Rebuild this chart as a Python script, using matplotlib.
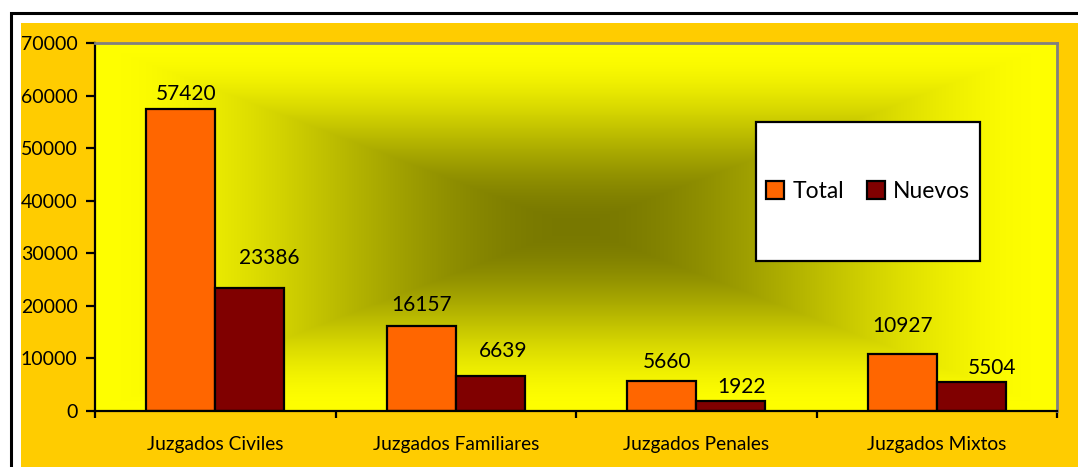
import numpy as np
import matplotlib
matplotlib.use("Agg")
import matplotlib.pyplot as plt
from matplotlib.patches import Rectangle, Patch

plt.rcParams['font.family'] = ['Lato', 'DejaVu Sans']

# Data
categories = ['Juzgados Civiles', 'Juzgados Familiares', 'Juzgados Penales', 'Juzgados Mixtos']
total = [57420, 16157, 5660, 10927]
nuevos = [23386, 6639, 1922, 5504]
series_names = ['Total', 'Nuevos']

# label offsets (points) from the top-centre of each bar, as placed in the original
total_label_dx = [4, 0, 4, 0]
total_label_dy = [11, 15, 14, 20]
nuevos_label_dx = [14, 9, 8, 15]
nuevos_label_dy = [22, 18, 10, 10]

W, H = 1078, 467
fig = plt.figure(figsize=(W / 100, H / 100), dpi=100)
fig.patch.set_facecolor('white')

# outer frame and orange chart area
fig.patches.append(Rectangle((10.5 / W, -0.1), 1.2, 1 - 12.5 / H + 0.1, transform=fig.transFigure,
                             facecolor='white', edgecolor='black', linewidth=2.2, zorder=0))
fig.patches.append(Rectangle((21 / W, -0.1), 1.2, 1 - 23 / H + 0.1, transform=fig.transFigure,
                             facecolor='#FFCC00', edgecolor='none', zorder=0.5))

ax = fig.add_axes([95 / W, (H - 411) / H, 962 / W, 368 / H])
ax.set_zorder(2)
ax.set_facecolor('#FFFF00')

# rectangular "from centre" gradient background
n = 400
u = np.linspace(-1, 1, n)
U, V = np.meshgrid(u, u)
t = np.clip(np.maximum(np.abs(U), np.abs(V)), 0, 1)
t = 3 * t ** 2 - 2 * t ** 3
dark = np.array([120, 120, 0]) / 255
light = np.array([255, 255, 0]) / 255
img = dark[None, None, :] * (1 - t[..., None]) + light[None, None, :] * t[..., None]
ax.imshow(img, extent=[0, 1, 0, 1], transform=ax.transAxes, aspect='auto', zorder=0)

x = np.arange(len(categories))
w = 0.287
b1 = ax.bar(x - w / 2, total, w, color='#FF6600', edgecolor='black', linewidth=1.6, zorder=2)
b2 = ax.bar(x + w / 2, nuevos, w, color='#800000', edgecolor='black', linewidth=1.6, zorder=2)

for i in range(len(categories)):
    ax.annotate(str(total[i]), (x[i] - w / 2, total[i]), xytext=(total_label_dx[i], total_label_dy[i]),
                textcoords='offset points', ha='center', va='center', fontsize=15, zorder=3)
    ax.annotate(str(nuevos[i]), (x[i] + w / 2, nuevos[i]), xytext=(nuevos_label_dx[i], nuevos_label_dy[i]),
                textcoords='offset points', ha='center', va='center', fontsize=15, zorder=3)

ax.set_xlim(-0.5, len(categories) - 0.5)
ax.set_ylim(0, 70000)
ax.set_yticks(np.arange(0, 70001, 10000))
ax.tick_params(axis='y', length=6.5, width=1.6, pad=6, labelsize=14, direction='out')

ax.set_xticks(np.arange(-0.5, len(categories), 1.0))
ax.set_xticklabels([])
ax.tick_params(axis='x', which='major', length=5, width=1.6, direction='out')
ax.set_xticks(x, minor=True)
ax.set_xticklabels(categories, minor=True, fontsize=13.8)
ax.tick_params(axis='x', which='minor', length=0, pad=18)

for s in ['left', 'bottom']:
    ax.spines[s].set_color('black')
    ax.spines[s].set_linewidth(1.6)
for s in ['top', 'right']:
    ax.spines[s].set_color('#808080')
    ax.spines[s].set_linewidth(2)
for s in ax.spines.values():
    s.set_zorder(4)

# legend box
lx0, lx1, ly0, ly1 = 756, 980, 122, 261
fig.patches.append(Rectangle((lx0 / W, (H - ly1) / H), (lx1 - lx0) / W, (ly1 - ly0) / H,
                             transform=fig.transFigure, facecolor='white', edgecolor='black',
                             linewidth=1.6, zorder=5))
handles = [Patch(facecolor='#FF6600', edgecolor='black', linewidth=1.6),
           Patch(facecolor='#800000', edgecolor='black', linewidth=1.6)]
leg = fig.legend(handles, series_names, loc='center', ncol=2, frameon=False, fontsize=16.5,
                 bbox_to_anchor=((lx0 + lx1) / 2 / W, (H - (ly0 + ly1) / 2) / H),
                 bbox_transform=fig.transFigure, handlelength=0.8, handleheight=0.8,
                 handletextpad=0.35, columnspacing=1.0)
leg.set_zorder(6)

fig.savefig('out.png', dpi=100)
